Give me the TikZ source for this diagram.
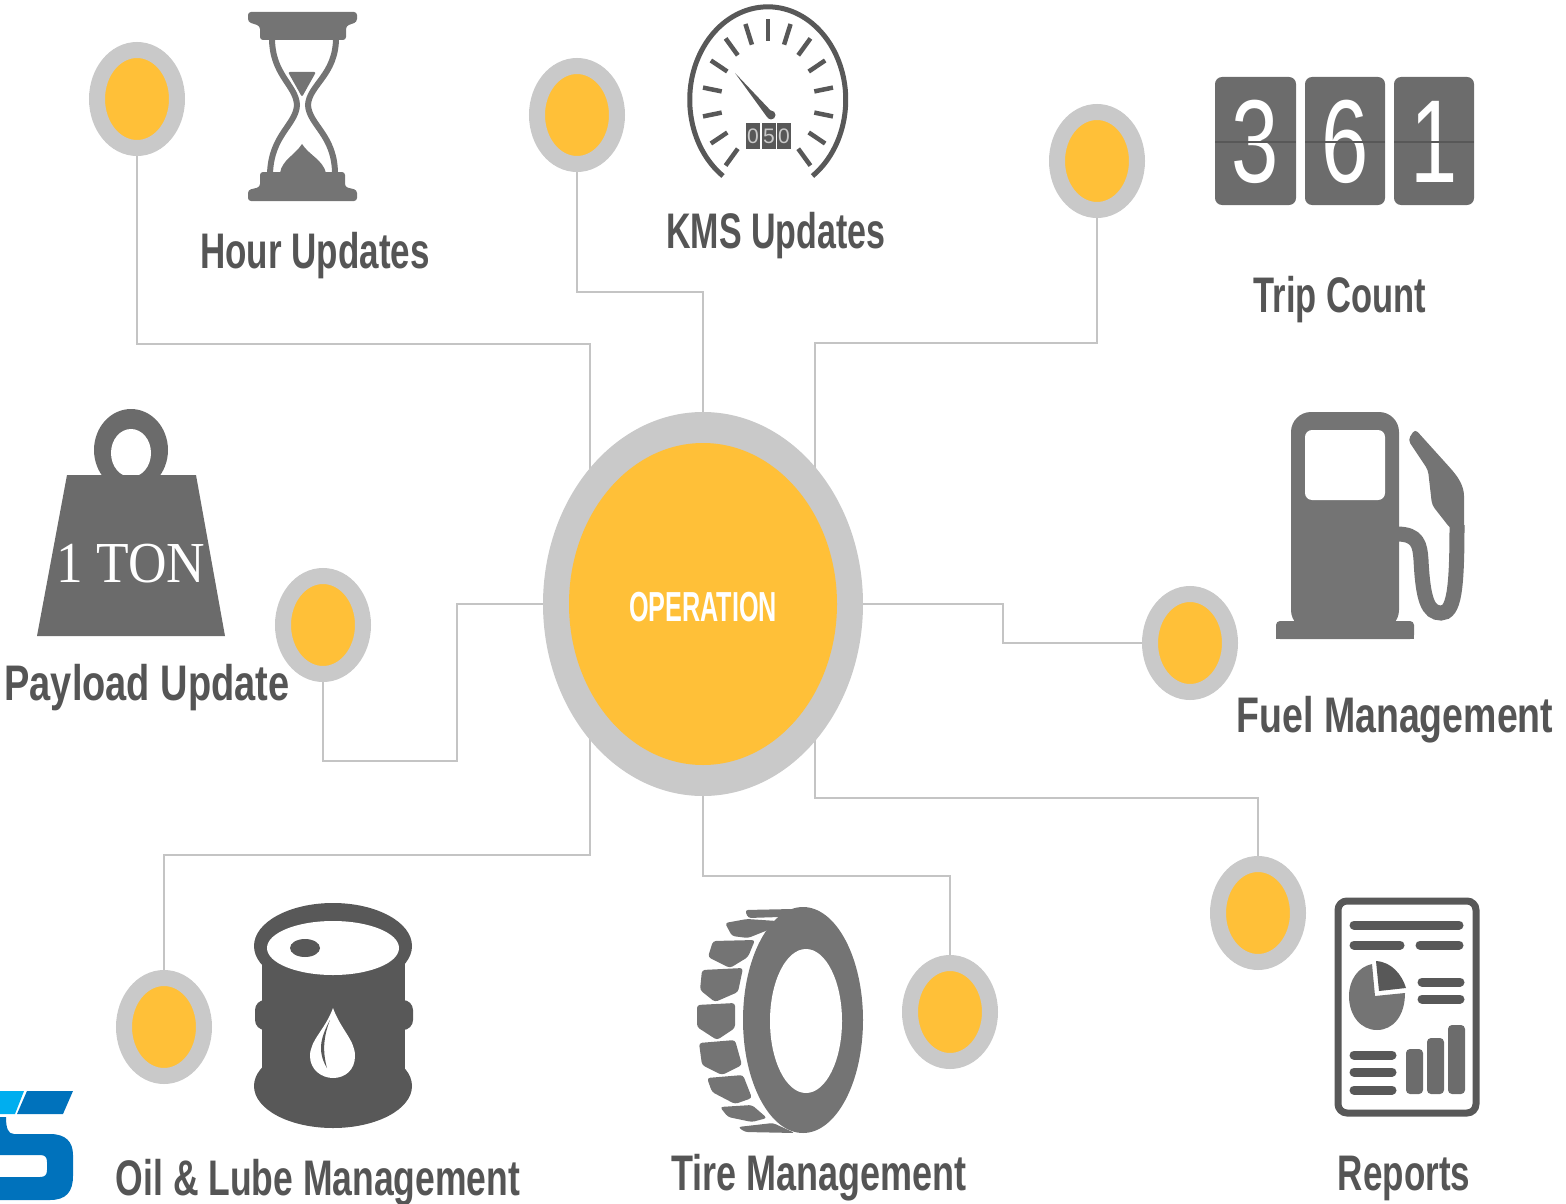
\documentclass[tikz,border=0pt]{standalone}
\usepackage{fontspec}
\setmainfont{Liberation Sans}
\newfontfamily\tonfont{Liberation Serif}
\usetikzlibrary{
  backgrounds,
  shapes.geometric
}
\definecolor{spotyellow}{HTML}{FFC038}
\definecolor{ringgrey}{HTML}{C9C9C9}
\definecolor{wiregrey}{HTML}{C4C4C4}
\definecolor{labelgrey}{HTML}{555555}
\definecolor{icongrey}{HTML}{747474}
\definecolor{darkgrey}{HTML}{585858}
\definecolor{tilegrey}{HTML}{6C6C6C}
\definecolor{logodark}{HTML}{0072BC}
\definecolor{logolight}{HTML}{00AEEF}
\tikzset{
  spot/.style={
    ellipse,
    draw=ringgrey,
    fill=spotyellow,
    line width=16pt,
    inner sep=0pt,
    minimum width=80pt,
    minimum height=98pt
  },
  wire/.style={
    draw=wiregrey,
    line width=2.6pt
  },
  labeltext/.style={
    anchor=base,
    text=labelgrey,
    inner sep=0pt,
    font=\bfseries\fontsize{50}{60}\selectfont
  },
  digitbox/.style={
    fill=darkgrey,
    text=ringgrey,
    inner sep=0pt,
    minimum width=14pt,
    minimum height=26pt,
    font=\fontsize{21}{21}\selectfont
  },
  tiledigit/.style={
    text=white,
    inner sep=0pt,
    xscale=.72,
    font=\fontsize{118}{118}\selectfont
  },
  treadblock/.style={
    fill=icongrey,
    rounded corners=3pt
  },
  reportbar/.style={
    draw=darkgrey,
    line width=9pt,
    line cap=round
  }
}

\begin{document}
\begin{tikzpicture}[x=1pt,y=-1pt]
  \useasboundingbox (0,0) rectangle (1566,1204);

  % hub and spots
  \node[ellipse,fill=ringgrey,inner sep=0pt,minimum width=320pt,minimum height=384pt] (hub) at (703,604) {};
  \node[ellipse,fill=spotyellow,inner sep=0pt,minimum width=268pt,minimum height=322pt,text=white,
    font=\bfseries\fontsize{42}{42}\selectfont,xscale=1] (hubcore) at (703,604) {};
  \node[text=white,inner sep=0pt,xscale=.6,font=\bfseries\fontsize{42}{42}\selectfont] (hubtext) at (703,607) {OPERATION};
  \node[spot] (spotHour) at (137,99) {};
  \node[spot] (spotKms) at (577,115) {};
  \node[spot] (spotTrip) at (1097,161) {};
  \node[spot] (spotPayload) at (323,625) {};
  \node[spot] (spotFuel) at (1190,643) {};
  \node[spot] (spotReports) at (1258,913) {};
  \node[spot] (spotTire) at (950,1012) {};
  \node[spot] (spotOil) at (164,1027) {};

  \begin{scope}[on background layer]
    \draw[wire] (spotHour.south) |- (590,344) -- (590,344 |- hub);
    \draw[wire] (spotKms.south) |- (703,292) -- (hub.north);
    \draw[wire] (spotTrip.south) |- (815,343) -- (815,343 |- hub);
    \draw[wire] (spotPayload.south) |- (457,761) |- (hub.west);
    \draw[wire] (hub.east) -| (1003,643) -- (spotFuel.west);
    \draw[wire] (spotReports.north) |- (815,798) -- (815,798 |- hub);
    \draw[wire] (spotTire.north) |- (703,876) -- (hub.south);
    \draw[wire] (spotOil.north) |- (590,855) -- (590,855 |- hub);
  \end{scope}

  % labels
  \node[labeltext,xscale=.70] (labHour) at (315,268) {Hour Updates};
  \node[labeltext,xscale=.68] (labKms) at (776,248) {KMS Updates};
  \node[labeltext,xscale=.69] (labTrip) at (1340,312) {Trip Count};
  \node[labeltext,xscale=.76] (labPayload) at (147,700) {Payload Update};
  \node[labeltext,xscale=.75] (labFuel) at (1395,732) {Fuel Management};
  \node[labeltext,xscale=.71] (labOil) at (318,1195) {Oil \& Lube Management};
  \node[labeltext,xscale=.72] (labTire) at (819,1190) {Tire Management};
  \node[labeltext,xscale=.70] (labReports) at (1404,1190) {Reports};

  % hourglass
  \fill[icongrey,rounded corners=3pt] (248,12) -- (357,12) -- (357,22) -- (346,26) -- (346,40) -- (260,40) -- (260,26) -- (248,22) -- cycle;
  \fill[icongrey,rounded corners=3pt] (260,172) -- (345,172) -- (345,187) -- (357,190) -- (357,201) -- (248,201) -- (248,190) -- (260,187) -- cycle;
  \draw[icongrey,line width=6pt] (272,38) .. controls (272,75) and (296,85) .. (297,105) .. controls (296,125) and (271,135) .. (270,174);
  \draw[icongrey,line width=6pt] (336,38) .. controls (336,75) and (309,85) .. (308,105) .. controls (309,125) and (335,135) .. (335,174);
  \fill[icongrey,rounded corners=2pt] (288,72) -- (316,72) -- (302,97) -- cycle;
  \fill[icongrey] (280,173) .. controls (282,160) and (295,155) .. (302,144) .. controls (309,155) and (323,160) .. (326,173) -- cycle;

  % speedometer
  \draw[darkgrey,line width=5pt] (723,176) arc[start angle=125,end angle=415,x radius=78,y radius=93];
  \foreach \a in {-140,-120,...,-20,0,20,...,140}
    \draw[darkgrey,line width=4.5pt] ({768+47*sin(\a)},{102-61*cos(\a)}) -- ({768+66*sin(\a)},{102-83*cos(\a)});
  \fill[darkgrey] (735,73) -- (773,113) -- (767,117) -- cycle;
  \fill[darkgrey] (771,115) circle[radius=4.5];
  \node[digitbox] (gaugeA) at (753,136) {0};
  \node[digitbox] (gaugeB) at (769,136) {5};
  \node[digitbox] (gaugeC) at (784,136) {0};

  % trip counter
  \foreach \l/\r/\d in {1215/1296/3,1305/1385/6,1394/1474/1} {
    \fill[tilegrey,rounded corners=7pt] (\l,77) rectangle (\r,205);
    \node[tiledigit] (tile\d) at ({(\l+\r)/2},142) {\d};
    \draw[darkgrey,line width=1.2pt] (\l,142) -- (\r,142);
  }

  % weight
  \fill[icongrey!92!black] (131,450) ellipse[x radius=37,y radius=41];
  \fill[white] (131,453) ellipse[x radius=20,y radius=24];
  \fill[icongrey!92!black] (67,475) -- (196,475) -- (225,636) -- (37,636) -- cycle;
  \node[text=white,inner sep=0pt,anchor=base,xscale=.92,font=\tonfont\fontsize{58}{58}\selectfont] (weightText) at (131,582) {1 TON};

  % fuel pump
  \fill[icongrey,rounded corners=20pt] (1291,630) -- (1291,412) -- (1399,412) -- (1399,630) -- cycle;
  \fill[icongrey,rounded corners=4pt] (1276,639) -- (1276,621) -- (1414,621) -- (1414,639) -- cycle;
  \fill[icongrey] (1276,630) rectangle (1414,639);
  \fill[white,rounded corners=7pt] (1305,430) rectangle (1385,500);
  \draw[icongrey,line width=15pt] (1397,534) .. controls (1418,534) and (1420,545) .. (1421,560) .. controls (1423,600) and (1428,613) .. (1441,613) .. controls (1454,613) and (1457,590) .. (1457,525);
  \fill[icongrey,rounded corners=4pt] (1408,440) -- (1415,429) -- (1452,470) .. controls (1460,480) and (1464,488) .. (1464,500) -- (1464,535) -- (1450,528) -- (1432,505) -- (1428,470) -- cycle;

  % report sheet
  \draw[darkgrey,line width=7pt,rounded corners=9pt] (1338,901) rectangle (1476,1113);
  \draw[reportbar] (1354,925) -- (1459,925);
  \draw[reportbar] (1354,945) -- (1400,945);
  \draw[reportbar] (1420,945) -- (1459,945);
  \draw[reportbar] (1422,982) -- (1460,982);
  \draw[reportbar] (1422,999) -- (1460,999);
  \draw[reportbar] (1354,1055) -- (1392,1055);
  \draw[reportbar] (1354,1072) -- (1392,1072);
  \draw[reportbar] (1354,1090) -- (1392,1090);
  \fill[icongrey] (1375,996) -- (1372,964) .. controls (1358,967) and (1349,980) .. (1349,996) .. controls (1349,1016) and (1361,1030) .. (1377,1030) .. controls (1393,1030) and (1405,1016) .. (1405,993) -- cycle;
  \fill[darkgrey] (1379,991) -- (1376,961) .. controls (1392,962) and (1402,975) .. (1406,988) -- cycle;
  \fill[tilegrey,rounded corners=4pt] (1406,1049) rectangle (1423,1094);
  \fill[tilegrey,rounded corners=4pt] (1427,1038) rectangle (1444,1094);
  \fill[tilegrey,rounded corners=4pt] (1448,1025) rectangle (1465,1094);

  % tire
  \fill[icongrey] (803,1020) ellipse[x radius=60,y radius=113];
  \fill[white] (806,1021) ellipse[x radius=36,y radius=72];
  \fill[treadblock] (745,910) -- (793,909) -- (780,917) -- (748,918) -- cycle;
  \fill[treadblock] (725,923) -- (747,919) -- (777,921) -- (768,930) -- (748,938) -- (732,936) -- cycle;
  \fill[treadblock] (713,941) -- (755,940) -- (748,957) -- (730,968) -- (708,957) -- cycle;
  \fill[treadblock] (702,970) -- (743,968) -- (738,992) -- (715,1002) -- (700,990) -- cycle;
  \fill[treadblock] (697,1005) -- (735,1003) -- (735,1028) -- (717,1040) -- (697,1027) -- cycle;
  \fill[treadblock] (699,1043) -- (735,1040) -- (742,1065) -- (722,1075) -- (702,1065) -- cycle;
  \fill[treadblock] (707,1078) -- (743,1075) -- (752,1098) -- (735,1104) -- (712,1092) -- cycle;
  \fill[treadblock] (720,1107) -- (752,1105) -- (767,1118) -- (752,1122) -- (728,1117) -- cycle;
  \fill[treadblock] (738,1127) -- (773,1123) -- (795,1133) -- (745,1132) -- cycle;

  % oil barrel
  \fill[darkgrey] (333,946) ellipse[x radius=79,y radius=43];
  \fill[darkgrey] (262,946) rectangle (405,1090);
  \fill[darkgrey,rounded corners=10pt] (255,1000) rectangle (413,1030);
  \fill[darkgrey] (333,1086) ellipse[x radius=79,y radius=42];
  \fill[white] (333,948) ellipse[x radius=66,y radius=27];
  \fill[darkgrey] (305,948) ellipse[x radius=15,y radius=9];
  \fill[white] (333,1008) .. controls (325,1030) and (310,1040) .. (310,1056) .. controls (310,1070) and (322,1078) .. (333,1078) .. controls (345,1078) and (355,1070) .. (355,1056) .. controls (355,1040) and (341,1030) .. (333,1008) -- cycle;
  \fill[darkgrey] (330,1020) .. controls (322,1035) and (316,1050) .. (327,1068) .. controls (322,1050) and (324,1035) .. (330,1020) -- cycle;

  % logo
  \fill[logolight] (0,1091) -- (24,1091) -- (15,1114) -- (0,1114) -- cycle;
  \fill[logodark] (27,1091) -- (73,1091) -- (63,1114) -- (17,1114) -- cycle;
  \fill[logodark] (0,1117) -- (6,1117) .. controls (6,1128) and (8,1134) .. (14,1134) -- (50,1134) .. controls (66,1134) and (73,1142) .. (73,1155) -- (73,1176) .. controls (73,1192) and (66,1200) .. (50,1200) -- (0,1200) -- (0,1177) -- (40,1177) .. controls (45,1177) and (47,1175) .. (47,1170) -- (47,1162) .. controls (47,1157) and (45,1155) .. (40,1155) -- (0,1155) -- cycle;
\end{tikzpicture}
\end{document}
